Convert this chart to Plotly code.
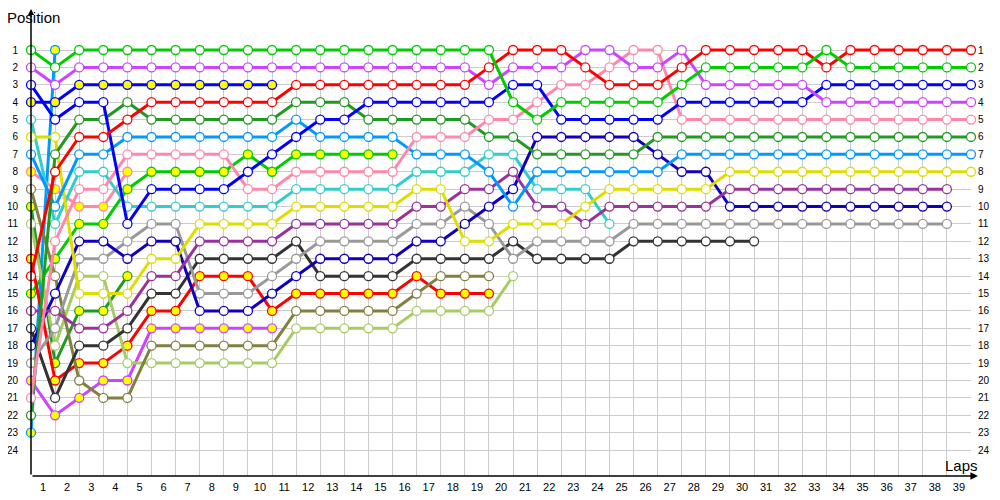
import plotly.graph_objects as go

# ---------------- data: position per lap (lap 0 = start) ----------------
green      = [1, 2, 1, 1, 1, 1, 1, 1, 1, 1, 1, 1, 1, 1, 1, 1, 1, 1, 1, 1,
              4, 5, 4, 4, 4, 4, 4, 3, 2, 2, 2, 2, 2, 1, 2, 2, 2, 2, 2, 2]
violet     = [2, 3, 2, 2, 2, 2, 2, 2, 2, 2, 2, 2, 2, 2, 2, 2, 2, 2, 2, 3,
              2, 2, 2, 1, 1, 2, 2, 1, 3, 3, 3, 3, 3, 4, 4, 4, 4, 4, 4, 4]
blue       = [3, 5, 4, 4, 11, 9, 9, 9, 9, 8, 7, 6, 5, 5, 4, 4, 4, 4, 4, 4,
              3, 3, 5, 5, 5, 5, 5, 4, 4, 4, 4, 4, 4, 3, 3, 3, 3, 3, 3, 3]
blue_b     = [4, 4, 3, 3, 3, 3, 3, 3, 3, 3, 3]
red        = [14, 8, 6, 6, 5, 4, 4, 4, 4, 4, 4, 3, 3, 3, 3, 3, 3, 3, 3, 2,
              1, 1, 1, 2, 3, 3, 3, 2, 1, 1, 1, 1, 1, 2, 1, 1, 1, 1, 1, 1]
pink       = [21, 12, 9, 9, 7, 7, 7, 7, 7, 9, 9, 8, 8, 8, 8, 8, 6, 6, 6, 5,
              5, 4, 3, 3, 2, 1, 1, 5, 5, 5, 5, 5, 5, 5, 5, 5, 5, 5, 5, 5]
dark_green = [22, 7, 5, 5, 4, 5, 5, 5, 5, 5, 5, 4, 4, 4, 5, 5, 5, 5, 5, 6,
              6, 7, 7, 7, 7, 7, 6, 6, 6, 6, 6, 6, 6, 6, 6, 6, 6, 6, 6, 6]
sky        = [7, 10, 7, 7, 6, 6, 6, 6, 6, 6, 6, 5, 6, 6, 6, 6, 7, 7, 7, 8,
              10, 8, 8, 8, 8, 8, 8, 7, 7, 7, 7, 7, 7, 7, 7, 7, 7, 7, 7, 7]
yellow     = [6, 6, 15, 15, 15, 13, 13, 11, 11, 11, 11, 10, 10, 10, 10, 10, 9, 9, 12, 12,
              11, 11, 11, 10, 9, 9, 9, 9, 9, 8, 8, 8, 8, 8, 8, 8, 8, 8, 8, 8]
purple     = [16, 16, 17, 17, 16, 14, 14, 12, 12, 12, 12, 11, 11, 11, 11, 11, 10, 10, 9, 9,
              8, 10, 10, 11, 10, 10, 10, 10, 10, 9, 9, 9, 9, 9, 9, 9, 9, 9, 9]
navy       = [18, 15, 12, 12, 13, 12, 12, 16, 16, 16, 15, 14, 13, 13, 13, 13, 12, 12, 11, 10,
              9, 6, 6, 6, 6, 6, 7, 8, 8, 10, 10, 10, 10, 10, 10, 10, 10, 10, 10]
gray       = [19, 17, 13, 13, 12, 11, 11, 15, 15, 15, 14, 13, 12, 12, 12, 12, 11, 11, 10, 11,
              13, 12, 12, 12, 12, 11, 11, 11, 11, 11, 11, 11, 11, 11, 11, 11, 11, 11, 11]
black      = [17, 21, 18, 18, 17, 15, 15, 13, 13, 13, 13, 12, 14, 14, 14, 14, 13, 13, 13, 13,
              12, 13, 13, 13, 13, 12, 12, 12, 12, 12, 12]
cyan       = [5, 11, 8, 8, 10, 10, 10, 10, 10, 10, 10, 9, 9, 9, 9, 9, 8, 8, 8, 7,
              7, 9, 9, 9, 11]
olive      = [9, 14, 20, 21, 21, 18, 18, 18, 18, 18, 18, 16, 16, 16, 16, 16, 15, 14, 14, 14]
light_green = [11, 18, 14, 14, 19, 19, 19, 19, 19, 19, 19, 17, 17, 17, 17, 17, 16, 16, 16, 16, 14]
red_b      = [13, 20, 19, 19, 18, 16, 16, 14, 14, 14, 16, 15, 15, 15, 15, 15, 14, 15, 15, 15]
green_b    = [15, 13, 11, 11, 9, 8, 8, 8, 8, 7, 8, 7, 7, 7, 7, 7]
violet_b   = [20, 22, 21, 20, 20, 17, 17, 17, 17, 17, 17]
pink_b     = [8, 9, 10, 10, 8]
dark_green_b = [10, 19, 16, 16, 14]
sky_b      = [23, 1]

lap_labels = [str(n) for n in range(1, 40)]
position_labels = [str(n) for n in range(1, 25)]

# (series, line colour, marker fill)
drivers = [
    (sky_b, "#0099ff", "#ffff00"),
    (dark_green_b, "#229922", "#ffff00"),
    (pink_b, "#ff88aa", "#ffff00"),
    (violet_b, "#cc44ff", "#ffff00"),
    (green_b, "#00cc00", "#ffff00"),
    (red_b, "#ff0000", "#ffff00"),
    (light_green, "#a6cc66", "#ffffff"),
    (olive, "#808040", "#ffffff"),
    (cyan, "#33cccc", "#ffffff"),
    (black, "#333333", "#ffffff"),
    (gray, "#999999", "#ffffff"),
    (navy, "#1100bb", "#ffffff"),
    (purple, "#993399", "#ffffff"),
    (yellow, "#dddd00", "#ffffff"),
    (sky, "#0099ff", "#ffffff"),
    (dark_green, "#229922", "#ffffff"),
    (pink, "#ff88aa", "#ffffff"),
    (blue_b, "#0000ff", "#ffff00"),
    (blue, "#0000ff", "#ffffff"),
    (violet, "#cc44ff", "#ffffff"),
    (red, "#ff0000", "#ffffff"),
    (green, "#00cc00", "#ffffff"),
]

fig = go.Figure()
for series, col, fill in drivers:
    fig.add_trace(go.Scatter(
        x=list(range(len(series))), y=series, mode="lines+markers",
        line=dict(color=col, width=3),
        marker=dict(size=9, color=fill, line=dict(color=col, width=1.3)),
        cliponaxis=False, hoverinfo="skip"))

FONT = "Liberation Sans"
# page has an 8px body margin, so the figure is 992x492 with margins shifted by 8px
fig.update_layout(
    width=992, height=492,
    margin=dict(l=23, r=29, t=37, b=24, autoexpand=False),
    plot_bgcolor="white", paper_bgcolor="white",
    showlegend=False,
    font=dict(family=FONT, size=11, color="#000000"),
    xaxis=dict(range=[0, 39], tickmode="array", automargin=False,
               tickvals=[n - 0.5 for n in range(1, 40)], ticktext=lap_labels,
               showgrid=False, zeroline=False, showline=False, ticks="",
               ticklabelstandoff=3,
               tickfont=dict(family=FONT, size=11, color="#000000"),
               minor=dict(tickmode="array", tickvals=list(range(0, 40)),
                          showgrid=True, gridcolor="#cccccc", gridwidth=1, ticks="")),
    yaxis=dict(range=[25.49, 0.7125], tickmode="array", automargin=False,
               tickvals=list(range(1, 25)), ticktext=position_labels,
               showgrid=True, gridcolor="#cccccc", gridwidth=1,
               zeroline=False, showline=False, ticks="",
               ticklabelstandoff=12,
               tickfont=dict(family=FONT, size=10, color="#000000")),
)

ann = []
# axis lines with arrows
ann.append(dict(xref="paper", yref="paper", x=1.0074, y=0, ax=-947, ay=0,
                text="", showarrow=True, arrowhead=2, arrowsize=1,
                arrowwidth=1.5, arrowcolor="#000000", standoff=0))
ann.append(dict(xref="paper", yref="paper", x=0, y=1.0928, ax=0, ay=471,
                text="", showarrow=True, arrowhead=2, arrowsize=0.8,
                arrowwidth=1.5, arrowcolor="#000000", standoff=0))
# right side position labels
for i, lbl in enumerate(position_labels):
    ann.append(dict(xref="paper", yref="y", x=1, y=i + 1, text=lbl,
                    showarrow=False, xanchor="left", xshift=5,
                    font=dict(family=FONT, size=10, color="#000000")))
ann.append(dict(xref="paper", yref="paper", x=-0.028, y=1.064, text="Position",
                showarrow=False, xanchor="left", yanchor="middle",
                font=dict(family=FONT, size=15, color="#000000")))
ann.append(dict(xref="paper", yref="paper", x=0.970, y=0.0255, text="Laps",
                showarrow=False, xanchor="left", yanchor="middle",
                font=dict(family=FONT, size=15, color="#000000")))
fig.update_layout(annotations=ann)

fig.write_html("out.html")
